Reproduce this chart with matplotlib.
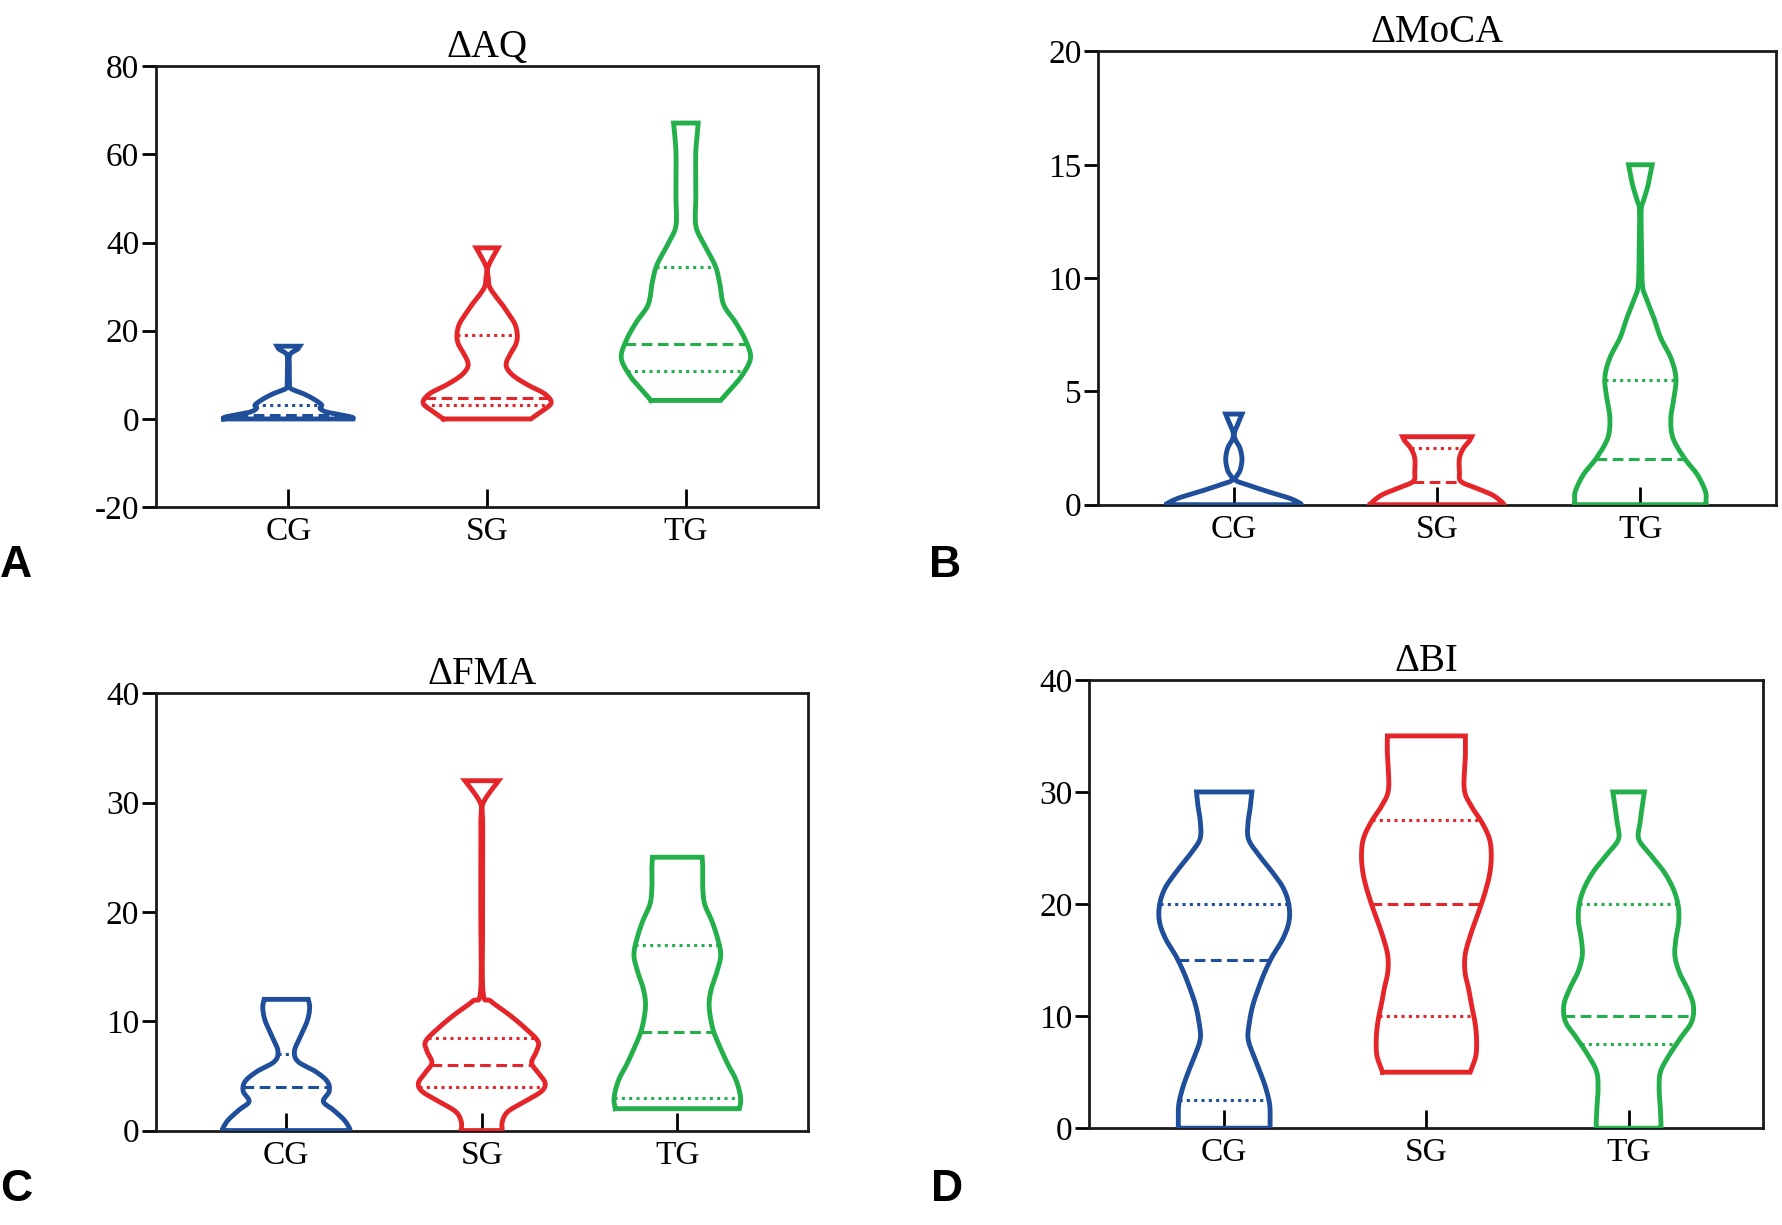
import numpy as np
import matplotlib
matplotlib.use('Agg')
import matplotlib.pyplot as plt

plt.rcParams['font.family'] = ['Liberation Serif', 'DejaVu Serif']
plt.rcParams['axes.unicode_minus'] = False

groups = ['CG', 'SG', 'TG']
colors = ['#1f4e9b', '#e4262b', '#23b04b']

# violin outlines: value levels and half widths (x units)
aq_cg_y = [0, 0.4, 1.0, 1.6, 2.4, 3.2, 4.5, 5.7, 6.9, 8, 10, 12, 14.6, 15.8, 16.5]
aq_cg_w = [0.326, 0.32, 0.256, 0.19, 0.16, 0.167, 0.128, 0.077, 0.012, 0.006, 0.005, 0.005, 0.008, 0.046, 0.057]
aq_sg_y = [0, 1.6, 3.6, 5.7, 7.7, 9.7, 11.5, 13.0, 15.0, 17.0, 19.0, 21.5, 24.0, 26.0, 28.0, 30.0, 32.0, 34.4, 38.8]
aq_sg_w = [0.22, 0.27, 0.322, 0.29, 0.205, 0.135, 0.1, 0.098, 0.12, 0.145, 0.152, 0.14, 0.105, 0.075, 0.04, 0.012, 0.006, 0.004, 0.055]
aq_tg_y = [4.2, 6.5, 9.7, 13.8, 17.8, 21.9, 25.9, 30.8, 34.8, 39.7, 43.8, 50, 54.3, 60.8, 67.1]
aq_tg_w = [0.175, 0.22, 0.28, 0.325, 0.30, 0.25, 0.19, 0.17, 0.147, 0.09, 0.05, 0.05, 0.05, 0.05, 0.062]
aq_quart = [(0, 1.0, 3.2), (3.2, 4.7, 19.0), (10.9, 16.9, 34.5)]

moca_cg_y = [0, 0.07, 0.3, 0.6, 0.9, 1.1, 1.5, 2.0, 2.5, 2.9, 3.2, 3.6, 4.0]
moca_cg_w = [0.33, 0.325, 0.27, 0.16, 0.06, 0.008, 0.03, 0.04, 0.03, 0.006, 0.004, 0.022, 0.04]
moca_sg_y = [0, 0.15, 0.44, 0.74, 1.03, 1.47, 2.06, 2.5, 2.8, 3.0]
moca_sg_w = [0.33, 0.315, 0.27, 0.19, 0.117, 0.11, 0.11, 0.13, 0.158, 0.17]
moca_tg_y = [0, 0.15, 0.59, 1.33, 2.06, 2.95, 3.83, 4.7, 5.6, 6.48, 7.36, 8.25, 9.13, 9.7, 11.2, 12.96, 13.4, 14.1, 15.0]
moca_tg_w = [0.325, 0.323, 0.32, 0.28, 0.216, 0.16, 0.15, 0.165, 0.175, 0.15, 0.10, 0.066, 0.028, 0.01, 0.006, 0.004, 0.015, 0.038, 0.058]
moca_quart = [(0, 0, 0), (0, 1.0, 2.5), (0, 2.0, 5.5)]

fma_cg_y = [0, 0.2, 0.98, 1.9, 2.66, 3.6, 4.5, 5.4, 6.3, 7.25, 8.5, 10.0, 11.2, 12.0]
fma_cg_w = [0.324, 0.324, 0.296, 0.24, 0.19, 0.22, 0.21, 0.15, 0.061, 0.042, 0.07, 0.107, 0.12, 0.113]
fma_sg_y = [0, 0.83, 1.74, 2.66, 3.58, 4.35, 5.26, 6.2, 7.25, 8.17, 9.4, 10.6, 11.84, 12.76, 20, 28, 29.9, 32]
fma_sg_w = [0.105, 0.105, 0.134, 0.22, 0.305, 0.324, 0.29, 0.255, 0.28, 0.287, 0.22, 0.14, 0.046, 0.006, 0.005, 0.005, 0.006, 0.086]
fma_tg_y = [2.0, 2.66, 3.58, 4.8, 6.0, 7.6, 9.1, 10.6, 11.8, 13.1, 14.6, 16.1, 17.7, 19.2, 20.7, 22.2, 24.1, 25.0]
fma_tg_w = [0.317, 0.324, 0.318, 0.296, 0.26, 0.219, 0.185, 0.167, 0.163, 0.176, 0.204, 0.222, 0.204, 0.176, 0.14, 0.13, 0.13, 0.127]
fma_quart = [(0, 4.0, 7.0), (4.0, 6.0, 8.5), (3.0, 9.0, 17.0)]

bi_cg_y = [0, 0.6, 2.08, 3.56, 5.05, 6.5, 8.0, 9.5, 11.0, 12.5, 13.9, 15.4, 16.9, 18.4, 19.9, 21.4, 22.9, 24.4, 25.8, 27.3, 28.8, 30]
bi_cg_w = [0.227, 0.227, 0.225, 0.206, 0.177, 0.145, 0.118, 0.125, 0.142, 0.17, 0.2, 0.24, 0.29, 0.32, 0.32, 0.293, 0.236, 0.17, 0.12, 0.118, 0.13, 0.137]
bi_sg_y = [5.0, 5.3, 6.5, 8.0, 9.5, 11.0, 12.5, 13.9, 15.4, 16.9, 18.4, 19.9, 21.4, 22.8, 24.3, 25.8, 27.3, 28.8, 30.3, 33.3, 35]
bi_sg_w = [0.217, 0.223, 0.245, 0.248, 0.24, 0.223, 0.208, 0.191, 0.191, 0.212, 0.24, 0.27, 0.296, 0.314, 0.321, 0.312, 0.274, 0.22, 0.187, 0.193, 0.193]
bi_tg_y = [0, 0.6, 2.08, 3.56, 5.05, 6.5, 8.0, 9.5, 11.0, 12.5, 13.9, 15.4, 16.9, 18.4, 19.9, 21.4, 22.9, 24.4, 25.8, 27.3, 28.8, 30]
bi_tg_w = [0.16, 0.16, 0.156, 0.151, 0.158, 0.2, 0.255, 0.312, 0.32, 0.29, 0.251, 0.229, 0.234, 0.248, 0.245, 0.22, 0.174, 0.108, 0.05, 0.057, 0.068, 0.078]
bi_quart = [(2.5, 15.0, 20.0), (10.0, 20.0, 27.5), (7.5, 10.0, 20.0)]


def smooth(y, w, n=10):
    # catmull-rom through the read points so the outline is not jagged
    y = np.asarray(y, float)
    w = np.asarray(w, float)
    P = np.column_stack([y, w])
    P = np.vstack([P[0], P, P[-1]])
    out = []
    t = np.linspace(0, 1, n, endpoint=False)[:, None]
    for i in range(1, len(P) - 2):
        p0, p1, p2, p3 = P[i - 1], P[i], P[i + 1], P[i + 2]
        seg = 0.5 * ((2 * p1) + (-p0 + p2) * t + (2 * p0 - 5 * p1 + 4 * p2 - p3) * t ** 2
                     + (-p0 + 3 * p1 - 3 * p2 + p3) * t ** 3)
        out.append(seg)
    out.append(P[-2][None, :])
    out = np.vstack(out)
    return out[:, 0], np.clip(out[:, 1], 0.002, None)


def draw_panel(ax, title, profiles, quarts, ylim, yticks):
    for i, ((yy, ww), q, c) in enumerate(zip(profiles, quarts, colors)):
        pos = i + 1
        ys, ws = smooth(yy, ww)
        xs = np.concatenate([pos - ws, [pos + ws[-1]], (pos + ws)[::-1], [pos - ws[0]]])
        yl = np.concatenate([ys, [ys[-1]], ys[::-1], [ys[0]]])
        ax.plot(xs, yl, color=c, lw=3.5, solid_joinstyle='miter', zorder=3)
        for k, v in enumerate(q):
            hw = np.interp(v, ys, ws)
            ls = (0, (3.5, 1.8)) if k == 1 else (0, (1, 1.4))
            ax.plot([pos - hw, pos + hw], [v, v], color=c, lw=2.2, ls=ls, zorder=2)
    ax.set_xlim(1 / 3, 11 / 3)
    ax.set_ylim(*ylim)
    ax.set_yticks(yticks)
    ax.set_xticks([1, 2, 3])
    ax.set_xticklabels(groups)
    ax.set_title(title, fontsize=28, pad=5)
    for s in ax.spines.values():
        s.set_linewidth(2)
        s.set_color('#1a1a1a')
    ax.tick_params(axis='y', direction='out', length=10, width=2, labelsize=24, pad=2)
    ax.tick_params(axis='x', direction='in', length=13, width=2, labelsize=24, pad=7)


fig = plt.figure(figsize=(17.83, 12.25), dpi=100)

axA = fig.add_axes([0.0874, 0.586, 0.3716, 0.360])
draw_panel(axA, '\u0394AQ', [(aq_cg_y, aq_cg_w), (aq_sg_y, aq_sg_w), (aq_tg_y, aq_tg_w)],
           aq_quart, (-20, 80), [-20, 0, 20, 40, 60, 80])

axB = fig.add_axes([0.616, 0.588, 0.380, 0.370])
draw_panel(axB, '\u0394MoCA', [(moca_cg_y, moca_cg_w), (moca_sg_y, moca_sg_w), (moca_tg_y, moca_tg_w)],
           moca_quart, (0, 20), [0, 5, 10, 15, 20])

axC = fig.add_axes([0.0874, 0.0771, 0.3656, 0.357])
draw_panel(axC, '\u0394FMA', [(fma_cg_y, fma_cg_w), (fma_sg_y, fma_sg_w), (fma_tg_y, fma_tg_w)],
           fma_quart, (0, 40), [0, 10, 20, 30, 40])

axD = fig.add_axes([0.611, 0.079, 0.378, 0.366])
draw_panel(axD, '\u0394BI', [(bi_cg_y, bi_cg_w), (bi_sg_y, bi_sg_w), (bi_tg_y, bi_tg_w)],
           bi_quart, (0, 40), [0, 10, 20, 30, 40])

for lab, x, y in [('A', 0.0, 0.538), ('B', 0.521, 0.538), ('C', 0.0, 0.029), ('D', 0.522, 0.029)]:
    fig.text(x, y, lab, fontsize=32, fontweight='bold', family='Liberation Sans',
             ha='left', va='center')

fig.savefig('out.png', dpi=100)
